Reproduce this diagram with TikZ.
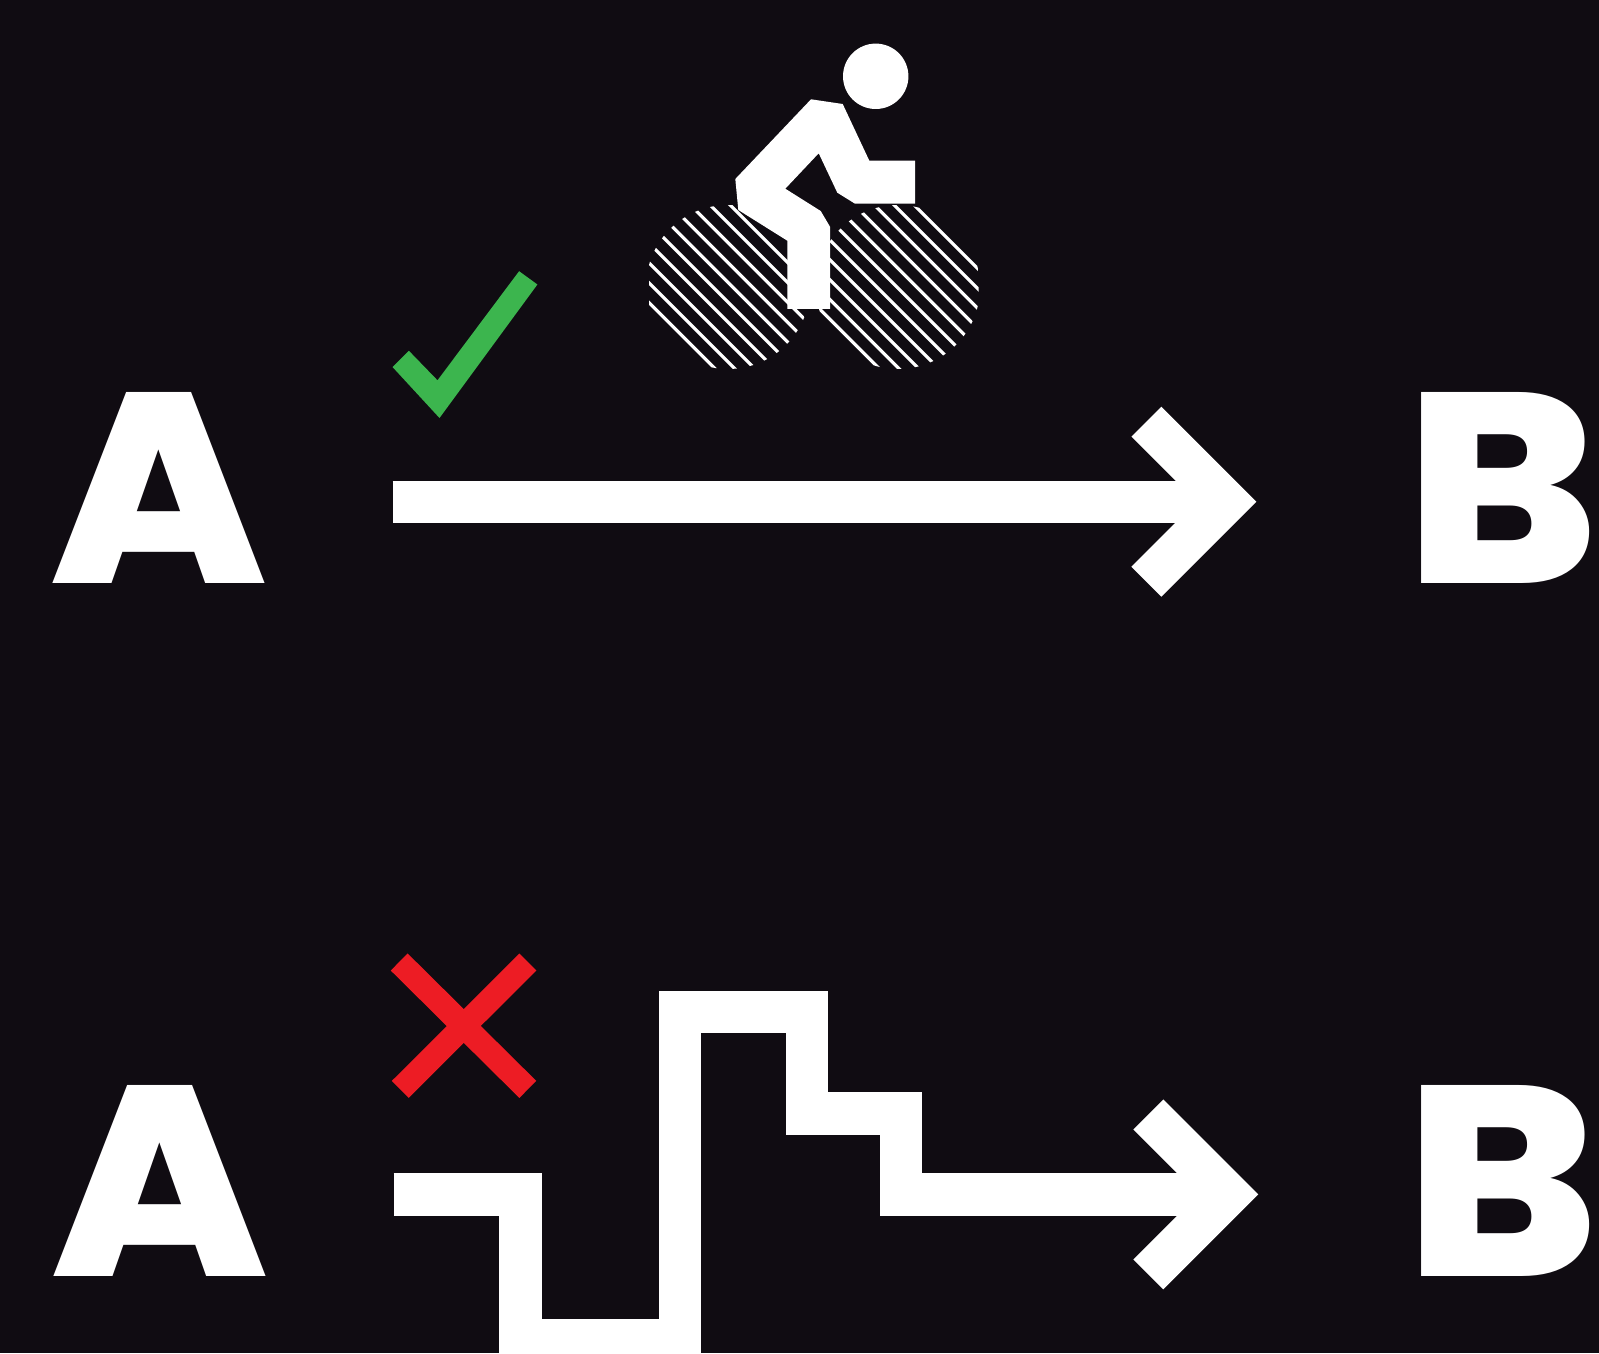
\documentclass[tikz,border=0pt]{standalone}
\usepackage{fontspec}
\usetikzlibrary{arrows.meta}
\newfontfamily\letterfont{Poppins ExtraBold}
\newcommand{\wideletter}[1]{\scalebox{1.06}[1]{#1}}
\definecolor{bgdark}{HTML}{100C12}
\definecolor{okgreen}{HTML}{3CB54E}
\definecolor{nored}{HTML}{ED1C24}
\tikzset{
  letter/.style={white,inner sep=0pt,outer sep=0pt,anchor=south,font=\letterfont\fontsize{135.5pt}{136pt}\selectfont},
  route/.style={draw=white,line width=21.2pt,-{Straight Barb[length=40pt,width=80pt,sharp]}},
  stripe/.style={draw=white,line width=1.6pt},
  noline/.style={draw=nored,line width=12pt}
}
\begin{document}
\begin{tikzpicture}[x=0.5pt,y=-0.5pt]
\useasboundingbox (0,0) rectangle (1599,1353);
\clip (0,0) rectangle (1599,1353);
\fill[bgdark] (0,0) rectangle (1599,1353);
\node[letter] (atop) at (158.6,583.6) {\wideletter{A}};
\node[letter] (btop) at (1502,583.6) {\wideletter{B}};
\node[letter] (abot) at (160.1,1276) {\wideletter{A}};
\node[letter] (bbot) at (1501.5,1276) {\wideletter{B}};
\coordinate (starttop) at (392.6,501.7);
\coordinate (endtop) at (1256.4,501.7);
\coordinate (startbot) at (393.6,1194.4);
\coordinate (endbot) at (1258.3,1194.4);
\draw[route] (starttop) -- (endtop);
\draw[route] (startbot) -| (520.6,1340.3) -| (679.7,1011.9) -| (807.2,1113.4) -| (901,1194.4) -- (endbot);
\fill[okgreen] (392.6,367.1) -- (408.9,350.8) -- (437.5,380.3) -- (519.1,271.2) -- (537.4,284.5) -- (439.5,418) -- cycle;
\draw[noline] (399.2,962) -- (527.8,1089.4);
\draw[noline] (527.8,962) -- (400.3,1089.4);
\foreach \cx/\xmin/\xmax/\first/\num in {728/649/812/-525/10,898/818/978.5/-709/11}{
  \begin{scope}
    \clip (\xmin,205) rectangle (\xmax,369.5);
    \clip (\cx,287) circle (41pt);
    \foreach \k in {1,...,\num}{
      \pgfmathsetmacro{\offs}{\first+(\k-1)*19.85}
      \draw[stripe] (\cx-100,\cx-100+\offs) -- (\cx+100,\cx+100+\offs);
    }
  \end{scope}
}
\fill[white] (875.7,76.3) circle (16.35pt);
\fill[white] (811,99.3) -- (842.7,104) -- (869.3,160.7) -- (915,160.7) -- (915,203.7) -- (855,203.7) -- (837.3,192.7) -- (818.7,153.3) -- (785.3,188.7) -- (820.7,211) -- (830,226.7) -- (830,309) -- (787.3,309) -- (787.3,240.7) -- (738.3,210) -- (735.3,179) -- cycle;
\end{tikzpicture}
\end{document}
